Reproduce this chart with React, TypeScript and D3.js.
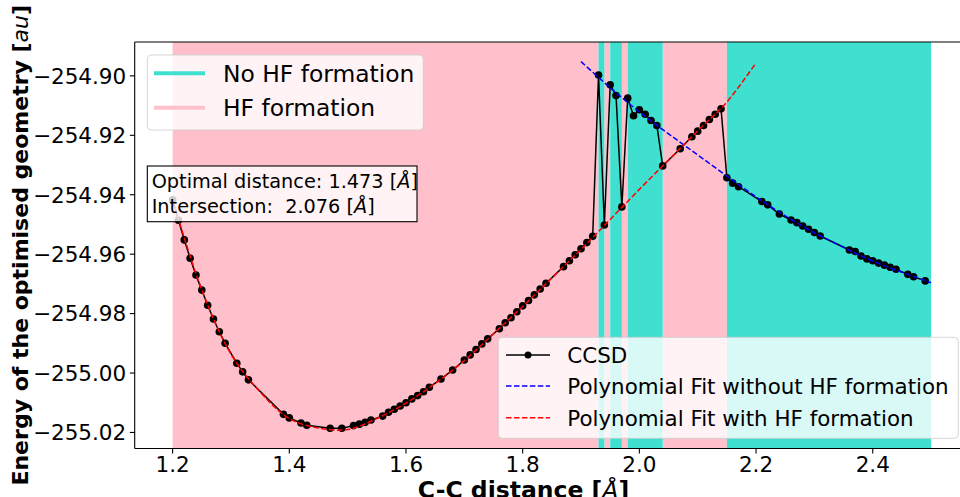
import * as d3 from 'd3';
import React from 'react';

// C-C distances [Å] and CCSD energies [au]
const distances = [
  1.20, 1.21, 1.22, 1.23, 1.24, 1.25, 1.26, 1.27, 1.28, 1.29,
  1.31, 1.32, 1.33, 1.39, 1.40, 1.42, 1.43, 1.47, 1.49, 1.51,
  1.52, 1.53, 1.54, 1.56, 1.57, 1.58, 1.59, 1.60, 1.61, 1.62,
  1.63, 1.64, 1.66, 1.68, 1.70, 1.71, 1.72, 1.73, 1.74, 1.76,
  1.77, 1.78, 1.79, 1.80, 1.81, 1.82, 1.83, 1.84, 1.87, 1.88,
  1.89, 1.90, 1.91, 1.92, 1.93, 1.94, 1.95, 1.96, 1.97, 1.98,
  1.99, 2.00, 2.01, 2.02, 2.03, 2.04, 2.07, 2.09, 2.10, 2.11,
  2.12, 2.13, 2.14, 2.15, 2.16, 2.17, 2.21, 2.22, 2.24, 2.26,
  2.27, 2.28, 2.29, 2.30, 2.31, 2.36, 2.37, 2.38, 2.39, 2.40,
  2.41, 2.42, 2.43, 2.44, 2.46, 2.47, 2.49,
];
const ccsdEnergy = [
  -254.9417, -254.9486, -254.9552, -254.9614, -254.9670, -254.9721, -254.9772, -254.9818, -254.9861, -254.9900,
  -254.9967, -254.9996, -255.0023, -255.0139, -255.0151, -255.0168, -255.0176, -255.0186, -255.0186, -255.0177,
  -255.0172, -255.0166, -255.0158, -255.0145, -255.0132, -255.0122, -255.0111, -255.0100, -255.0087, -255.0076,
  -255.0063, -255.0048, -255.0020, -254.9990, -254.9956, -254.9939, -254.9921, -254.9902, -254.9885, -254.9851,
  -254.9831, -254.9814, -254.9794, -254.9774, -254.9756, -254.9737, -254.9717, -254.9698, -254.9642, -254.9622,
  -254.9602, -254.9582, -254.9561, -254.9540, -254.8997, -254.9502, -254.9030, -254.9066, -254.9441, -254.9075,
  -254.9134, -254.9114, -254.9129, -254.9150, -254.9167, -254.9303, -254.9245, -254.9205, -254.9186, -254.9167,
  -254.9147, -254.9129, -254.9111, -254.9343, -254.9361, -254.9373, -254.9423, -254.9434, -254.9465, -254.9485,
  -254.9494, -254.9505, -254.9516, -254.9527, -254.9539, -254.9586, -254.9591, -254.9606, -254.9616, -254.9622,
  -254.9630, -254.9637, -254.9644, -254.9651, -254.9668, -254.9676, -254.9690,
];

// polynomial fits, sampled from the plot
const hfFitX = [1.20, 1.25, 1.30, 1.35, 1.40, 1.45, 1.50, 1.55, 1.60, 1.65, 1.70,
  1.75, 1.80, 1.85, 1.90, 1.95, 2.00, 2.05, 2.10, 2.15, 2.20];
const hfFitE = [-254.9417, -254.9720, -254.9936, -255.0064, -255.0153, -255.0185, -255.0190,
  -255.0153, -255.0101, -255.0035, -254.9958, -254.9868, -254.9776, -254.9680, -254.9584,
  -254.9483, -254.9382, -254.9283, -254.9185, -254.9088, -254.8956];
const noHfFitX = [1.90, 1.95, 2.00, 2.05, 2.10, 2.15, 2.20, 2.25, 2.30, 2.35, 2.40, 2.45, 2.50];
const noHfFitE = [-254.8952, -254.9040, -254.9121, -254.9195, -254.9266, -254.9337, -254.9407,
  -254.9471, -254.9528, -254.9577, -254.9623, -254.9661, -254.9696];

// shaded regions
const hfSpans = [[1.20, 1.93], [1.94, 1.95], [1.97, 1.98], [2.04, 2.15]];
const noHfSpans = [[1.93, 1.94], [1.95, 1.97], [1.98, 2.04], [2.15, 2.50]];

const xTicks = [1.2, 1.4, 1.6, 1.8, 2.0, 2.2, 2.4];
const yTicks = [-254.90, -254.92, -254.94, -254.96, -254.98, -255.00, -255.02];

const W = 960, H = 497;
const left = 134.7, right = 969, top = 42, bottom = 448.5;
const font = 'DejaVu Sans';
const TEAL = '#40e0d0', PINK = '#ffc0cb';

export default function App() {
  const x = d3.scaleLinear().domain([1.135, 2.565]).range([left, right]);
  const y = d3.scaleLinear().domain([-255.0254, -254.8886]).range([bottom, top]);

  const pts = distances.map((d, i) => [d, ccsdEnergy[i]] as [number, number]);
  const line = d3.line<[number, number]>().x(d => x(d[0])).y(d => y(d[1]));
  const fitLine = d3.line<[number, number]>().x(d => x(d[0])).y(d => y(d[1])).curve(d3.curveCatmullRom);
  const hfFit = hfFitX.map((d, i) => [d, hfFitE[i]] as [number, number]);
  const noHfFit = noHfFitX.map((d, i) => [d, noHfFitE[i]] as [number, number]);

  const fmt = (v: number) => v.toFixed(2).replace('-', '\u2212');

  return (
    <svg width={W} height={H} style={{ position: 'absolute', left: 0, top: 0, background: 'white' }}
      fontFamily={font}>
      <defs>
        <clipPath id="plot">
          <rect x={left} y={top} width={right - left} height={bottom - top} />
        </clipPath>
      </defs>
      <g clipPath="url(#plot)">
        {hfSpans.map((s, i) => (
          <rect key={'h' + i} x={x(s[0])} width={x(s[1]) - x(s[0])} y={top} height={bottom - top} fill={PINK} />
        ))}
        {noHfSpans.map((s, i) => (
          <rect key={'n' + i} x={x(s[0])} width={x(s[1]) - x(s[0])} y={top} height={bottom - top} fill={TEAL} />
        ))}
        <path d={line(pts) || ''} fill="none" stroke="black" strokeWidth={1.5} />
        {pts.map((p, i) => (
          <circle key={i} cx={x(p[0])} cy={y(p[1])} r={3.8} fill="black" />
        ))}
        <path d={fitLine(noHfFit) || ''} fill="none" stroke="blue" strokeWidth={1.5} strokeDasharray="5.55 2.4" />
        <path d={fitLine(hfFit) || ''} fill="none" stroke="red" strokeWidth={1.5} strokeDasharray="5.55 2.4" />
      </g>

      {/* spines */}
      <g stroke="black" strokeWidth={1.1} fill="none">
        <line x1={left} x2={left} y1={top} y2={bottom} />
        <line x1={left} x2={right} y1={bottom} y2={bottom} />
        <line x1={left} x2={right} y1={top} y2={top} />
        <line x1={right} x2={right} y1={top} y2={bottom} />
      </g>

      {/* x axis */}
      {xTicks.map(t => (
        <g key={t}>
          <line x1={x(t)} x2={x(t)} y1={bottom} y2={bottom + 4.9} stroke="black" strokeWidth={1.1} />
          <text x={x(t)} y={bottom + 23.5} fontSize={21.5} textAnchor="middle">{t.toFixed(1)}</text>
        </g>
      ))}
      {/* y axis */}
      {yTicks.map(t => (
        <g key={t}>
          <line x1={left - 4.9} x2={left} y1={y(t)} y2={y(t)} stroke="black" strokeWidth={1.1} />
          <text x={left - 8.5} y={y(t) + 7.8} fontSize={21.5} textAnchor="end">{fmt(t)}</text>
        </g>
      ))}

      <text x={523.5} y={498} fontSize={23.5} fontWeight="bold" textAnchor="middle">
        C-C distance [<tspan fontStyle="italic" fontWeight="normal">Å</tspan>]
      </text>
      <text transform={`translate(28, ${(top + bottom) / 2}) rotate(-90)`} fontSize={22} fontWeight="bold" textAnchor="middle">
        Energy of the optimised geometry [<tspan fontStyle="italic" fontWeight="normal">au</tspan>]
      </text>

      {/* region legend */}
      <rect x={147.3} y={55} width={276} height={75} rx={4} fill="white" fillOpacity={0.8} stroke="#cccccc" strokeOpacity={0.8} />
      <line x1={154} x2={205} y1={73.3} y2={73.3} stroke={TEAL} strokeWidth={4} />
      <line x1={154} x2={205} y1={107.7} y2={107.7} stroke={PINK} strokeWidth={4} />
      <text x={223} y={81.8} fontSize={23.4}>No HF formation</text>
      <text x={223} y={116.2} fontSize={23.4}>HF formation</text>

      {/* annotation box */}
      <rect x={147.3} y={166} width={269.7} height={55.7} fill="white" fillOpacity={0.8} stroke="black" strokeWidth={1.1} />
      <text x={151.7} y={188.3} fontSize={19.3}>
        Optimal distance: 1.473 [<tspan fontStyle="italic">Å</tspan>]
      </text>
      <text x={151.7} y={212.7} fontSize={19.3} style={{ whiteSpace: 'pre' }}>
        {'Intersection:  2.076 ['}<tspan fontStyle="italic">Å</tspan>]
      </text>

      {/* series legend */}
      <rect x={498.3} y={337.3} width={460} height={101} rx={4} fill="white" fillOpacity={0.8} stroke="#cccccc" strokeOpacity={0.8} />
      <line x1={506} x2={550} y1={355} y2={355} stroke="black" strokeWidth={1.5} />
      <circle cx={528} cy={355} r={3.5} fill="black" />
      <line x1={506} x2={550} y1={386} y2={386} stroke="blue" strokeWidth={1.5} strokeDasharray="5.55 2.4" />
      <line x1={506} x2={550} y1={417.7} y2={417.7} stroke="red" strokeWidth={1.5} strokeDasharray="5.55 2.4" />
      <text x={567.3} y={362.8} fontSize={21.4}>CCSD</text>
      <text x={567.3} y={393.8} fontSize={21.4}>Polynomial Fit without HF formation</text>
      <text x={567.3} y={425.5} fontSize={21.4}>Polynomial Fit with HF formation</text>
    </svg>
  );
}
